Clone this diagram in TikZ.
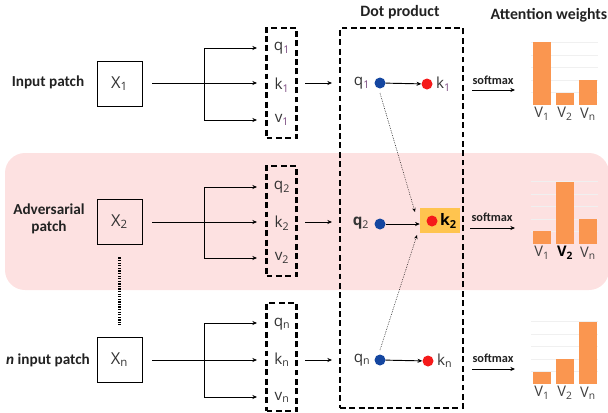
\documentclass[tikz,border=0pt]{standalone}
\usepackage{fontspec}
\setmainfont{Carlito}
\newfontfamily\varfont{Open Sans}
\usetikzlibrary{arrows.meta}
\definecolor{pinkbg}{HTML}{FDE1E1}
\definecolor{barorange}{HTML}{FA9650}
\definecolor{dotblue}{HTML}{1446A0}
\definecolor{dotred}{HTML}{F51A1A}
\definecolor{kyellow}{HTML}{FFC44F}
\definecolor{txt}{HTML}{222222}
\definecolor{subc}{HTML}{7A4A80}
\newcommand\sbs[1]{\textsubscript{\color{subc}#1}}
\newcommand\attnchart[4]{%
  % #1 baseline y, #2 #3 #4 bar tops
  \foreach \g in {0,1,2,3,4} {\draw[gray!12,line width=0.4pt] (531,#1-12.5*\g-12.5) -- (598,#1-12.5*\g-12.5);}
  \fill[barorange] (533,#1) rectangle (551,#2);
  \fill[barorange] (556,#1) rectangle (574,#3);
  \fill[barorange] (579,#1) rectangle (597,#4);
}
\begin{document}
\begin{tikzpicture}[x=0.03cm,y=-0.03cm,
  every node/.style={text=txt},
  lbl/.style={font=\fontsize{13}{15}\selectfont\bfseries, align=center},
  ttl/.style={font=\fontsize{13.5}{15}\selectfont\bfseries},
  var/.style={font=\varfont\fontsize{13}{15}\selectfont, text=black!80},
  xbox/.style={draw, line width=0.8pt, minimum width=1.35cm, minimum height=1.35cm, font=\varfont\fontsize{14}{16}\selectfont, text=black!80},
  qkvbox/.style={draw, line width=1.8pt, dash pattern=on 5pt off 3pt, minimum width=0.9cm},
  dotbox/.style={draw, line width=1.8pt, dash pattern=on 5pt off 3pt, minimum width=3.69cm, minimum height=11.4cm},
  conn/.style={line width=0.8pt, -{Stealth[length=4pt,width=3.5pt]}},
  plain/.style={line width=0.8pt},
  dotc/.style={circle, fill=#1, inner sep=0pt, minimum size=0.33cm},
  dotted arr/.style={line width=0.5pt, densely dotted, -{Stealth[length=3.5pt,width=3pt]}},
  smx/.style={font=\fontsize{10.5}{12}\selectfont\bfseries},
  barlbl/.style={font=\varfont\fontsize{12.5}{14}\selectfont, text=black!75}
]
\useasboundingbox (0,0) rectangle (608,412);
% background band
\fill[pinkbg, rounded corners=0.6cm] (5,153) rectangle (609,290);

% titles
\node[ttl] (tdot) at (400,12) {Dot product};
\node[ttl] (tatt) at (549,15) {Attention weights};

% left labels
\node[lbl] (l1) at (48,82) {Input patch};
\node[lbl] (l2) at (49,219) {Adversarial\\patch};
\node[lbl] (l3) at (48,360) {\textit{n} input patch};

% X boxes
\node[xbox] (x1) at (119.5,83.5) {X\textsubscript{1}};
\node[xbox] (x2) at (119.5,221.5) {X\textsubscript{2}};
\node[xbox] (x3) at (119.5,359.5) {X\textsubscript{n}};

% qkv boxes
\node[qkvbox, minimum height=3.3cm] (b1) at (281.5,83) {};
\node[qkvbox, minimum height=3.3cm] (b2) at (281.5,221) {};
\node[qkvbox, minimum height=3.24cm] (b3) at (281.5,357) {};

% qkv labels
\node[var] (q1) at (282,48) {q\sbs{1}};
\node[var] (k1) at (282,85) {k\sbs{1}};
\node[var] (v1) at (282,120) {v\sbs{1}};
\node[var] (q2) at (282,187) {q\textsubscript{2}};
\node[var] (k2) at (282,223) {k\textsubscript{2}};
\node[var] (v2) at (282,258) {v\textsubscript{2}};
\node[var] (q3) at (282,324) {q\textsubscript{n}};
\node[var] (k3) at (282,360) {k\textsubscript{n}};
\node[var] (v3) at (282,397) {v\textsubscript{n}};

% branch coordinates
\foreach \r/\a/\m/\b in {1/48/83/120, 2/187/222/258, 3/323/360/397} {
  \coordinate (s\r) at (152,\m);
  \coordinate (ta\r) at (257,\a);
  \coordinate (tm\r) at (257,\m);
  \coordinate (tb\r) at (257,\b);
  \coordinate (ja\r) at (204,\a);
  \coordinate (jb\r) at (204,\b);
  \coordinate (o\r) at (305,\m);
  \coordinate (d\r) at (332,\m);
}
\foreach \r in {1,2,3} {
  \draw[conn] (s\r) -- (tm\r);
  \draw[plain] (ja\r) -- (jb\r);
  \draw[conn] (ja\r) -- (ta\r);
  \draw[conn] (jb\r) -- (tb\r);
  \draw[conn] (o\r) -- (d\r);
}

% vertical dotted between X2 and Xn
\draw[line width=2.2pt, dash pattern=on 1.1pt off 1.1pt] (x2.south) ++(0,13) coordinate (vd1) -- (x3.north |- 0,325) coordinate (vd2);

% dot product box
\node[dotbox] (dp) at (401.5,218) {};

% row 1 dot product
\node[var] (dq1) at (362,83) {q\sbs{1}};
\node[dotc=dotblue] (bd1) at (380,83) {};
\node[dotc=dotred] (rd1) at (427,84) {};
\node[var, anchor=west] (dk1) at (432,84) {k\sbs{1}};
\draw[conn] (bd1) -- (rd1);

% row 2
\node[var, font=\varfont\bfseries\fontsize{13}{15}\selectfont] (dq2) at (361,223) {q\textsubscript{\mdseries 2}};
\node[dotc=dotblue] (bd2) at (380,224) {};
\node[fill=kyellow, minimum width=1.2cm, minimum height=0.75cm, inner sep=0pt] (ky) at (440,220.5) {};
\node[dotc=dotred] (rd2) at (432,221) {};
\node[var, anchor=west, font=\varfont\bfseries\fontsize{13.5}{15}\selectfont, text=black] (dk2) at (436,221) {k\textsubscript{2}};
\draw[conn] (bd2) -- (ky.west |- bd2);

% row 3
\node[var] (dq3) at (362,360) {q\textsubscript{n}};
\node[dotc=dotblue] (bd3) at (380,360) {};
\node[dotc=dotred] (rd3) at (428,361) {};
\node[var, anchor=west] (dk3) at (433,361) {k\textsubscript{n}};
\draw[conn] (bd3) -- (rd3);

% dotted cross arrows
\draw[dotted arr] (bd1) ++(0,10) coordinate (c1) -- (415,212) coordinate (c2);
\draw[dotted arr] (bd3) ++(0,-10) coordinate (c3) -- (417,235) coordinate (c4);

% softmax
\node[smx] (sm1) at (493,80) {softmax};
\node[smx] (sm2) at (492,217) {softmax};
\node[smx] (sm3) at (493,358) {softmax};
\coordinate (sa1) at (472,90); \coordinate (se1) at (515,90);
\coordinate (sa2) at (470,228); \coordinate (se2) at (515,228);
\coordinate (sa3) at (472,369); \coordinate (se3) at (515,369);
\foreach \r in {1,2,3} {\draw[conn] (sa\r) -- (se\r);}

% charts
\attnchart{105}{42}{93}{80}
\attnchart{244}{231}{182}{219}
\attnchart{384}{372}{359}{322}

\node[barlbl] (a11) at (542,114) {V\textsubscript{1}};
\node[barlbl] (a12) at (565,114) {V\textsubscript{2}};
\node[barlbl] (a13) at (588,114) {V\textsubscript{n}};
\node[barlbl] (a21) at (542,253) {V\textsubscript{1}};
\node[barlbl, font=\varfont\bfseries\fontsize{12.5}{14}\selectfont, text=black] (a22) at (565,253) {V\textsubscript{2}};
\node[barlbl] (a23) at (588,253) {V\textsubscript{n}};
\node[barlbl] (a31) at (542,393) {V\textsubscript{1}};
\node[barlbl] (a32) at (565,393) {V\textsubscript{2}};
\node[barlbl] (a33) at (588,393) {V\textsubscript{n}};
\end{tikzpicture}
\end{document}
